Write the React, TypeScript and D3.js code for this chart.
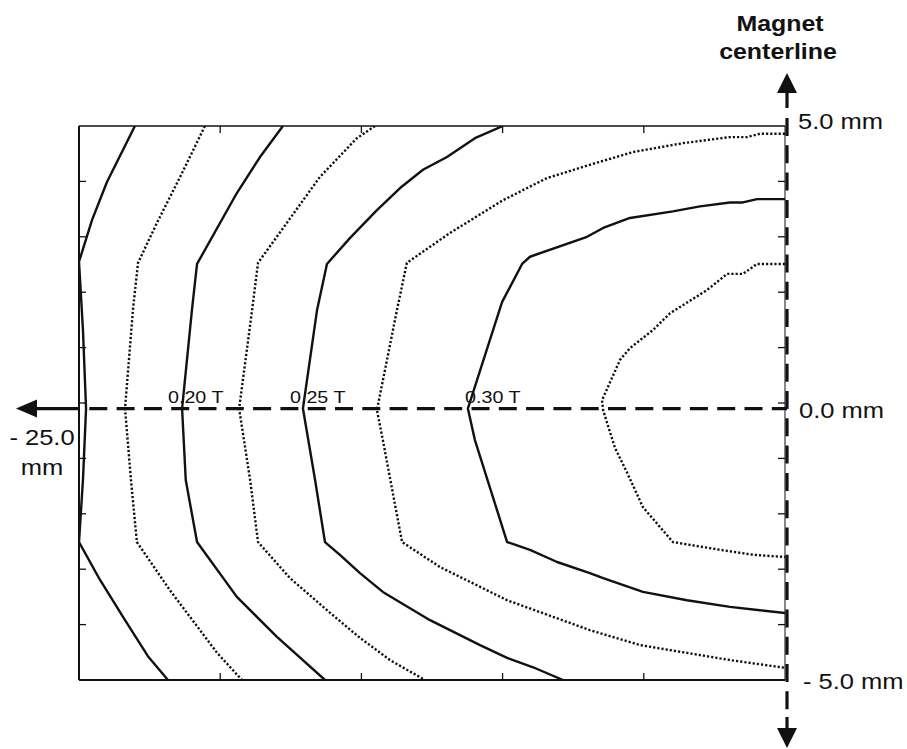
import * as d3 from 'd3';
import React from 'react';

const W = 907;
const H = 749;

// axes in mm: x = distance from magnet centerline, y = height
const xTicks = [-25, -20, -15, -10, -5, 0];
const yTicks = [-5, -4, -3, -2, -1, 0, 1, 2, 3, 4, 5];
const midY = -0.1;

// contour lines (mm), outer to inner
const c1x = [-23.02, -24.01, -24.54, -25, -24.86, -24.75, -24.86, -25, -24.26, -23.37, -22.56, -21.85];
const c1y = [5, 3.99, 3.3, 2.55, 1.32, -0.1, -1.39, -2.51, -3.19, -3.92, -4.57, -5];

const c2x = [-20.54, -21.42, -22.24, -22.91, -23.09, -23.37, -23.16, -22.95, -21.78, -20.11, -19.23];
const c2y = [5, 4.08, 3.25, 2.53, 1.68, -0.1, -1.39, -2.51, -3.38, -4.51, -5];

const c3x = [-17.78, -18.59, -19.41, -20.82, -21.0, -21.35, -21.22, -20.82, -19.41, -17.99, -16.29];
const c3y = [5, 4.44, 3.79, 2.51, 1.68, -0.1, -1.39, -2.51, -3.5, -4.22, -5];

const c4x = [-14.52, -15.16, -16.47, -18.66, -18.87, -19.33, -18.94, -18.66, -17.53, -16.22, -15.05, -13.99, -12.75];
const c4y = [5, 4.78, 4.08, 2.53, 1.68, -0.1, -1.39, -2.51, -3.16, -3.74, -4.24, -4.64, -5];

const c5x = [-9.99, -10.98, -11.97, -12.82, -13.63, -14.45, -15.4, -16.22, -16.57, -17.07, -16.64, -16.29, -15.76, -15.05, -14.24, -12.57, -10.8, -9.84, -8.92, -7.86];
const c5y = [5, 4.78, 4.44, 4.21, 3.88, 3.48, 2.98, 2.51, 1.68, -0.1, -1.39, -2.51, -2.74, -3.07, -3.41, -3.92, -4.37, -4.6, -4.77, -5];

const c6x = [0, -0.89, -1.35, -1.95, -3.61, -5.38, -6.91, -8.43, -9.99, -11.86, -13.39, -13.74, -14.45, -14.24, -13.56, -12.22, -9.84, -6.91, -5.13, -3.72, -1.95, 0];
const c6y = [4.86, 4.86, 4.8, 4.8, 4.69, 4.53, 4.3, 4.06, 3.66, 3.07, 2.53, 1.68, -0.13, -0.67, -2.51, -2.96, -3.56, -4.1, -4.37, -4.49, -4.64, -4.78];

const c7x = [0, -0.99, -1.49, -1.95, -3.01, -3.97, -5.49, -6.44, -7.01, -9.03, -9.31, -10.02, -11.23, -10.98, -9.84, -9.03, -8.07, -6.91, -6.44, -5.03, -3.47, -1.95, -0.89, 0];
const c7y = [3.68, 3.68, 3.62, 3.62, 3.55, 3.46, 3.34, 3.16, 3.0, 2.64, 2.51, 1.82, -0.1, -0.67, -2.51, -2.65, -2.87, -3.07, -3.16, -3.41, -3.56, -3.68, -3.74, -3.79];

const c8x = [0, -0.99, -1.49, -2.05, -2.76, -4.07, -4.67, -5.49, -5.84, -6.48, -6.44, -6.02, -5.59, -5.03, -3.97, -2.3, -1.13, 0];
const c8y = [2.51, 2.51, 2.33, 2.33, 2.04, 1.62, 1.32, 0.99, 0.78, 0.05, -0.13, -0.81, -1.26, -1.88, -2.51, -2.65, -2.74, -2.78];

const contourStyle = ['solid', 'dotted', 'solid', 'dotted', 'solid', 'dotted', 'solid', 'dotted'];

const labelText = ['0.20 T', '0.25 T', '0.30 T'];
const labelX = [-21.85, -17.53, -11.33];

const rightLabels = ['5.0 mm', '0.0 mm', '- 5.0 mm'];
const leftLabels = ['- 25.0', 'mm'];
const titleLines = ['Magnet', 'centerline'];

const FONT = "'Liberation Sans', Arial, Helvetica, sans-serif";
const SX = 1.16; // the original lettering is a little wide

const margin = { left: 79, right: 122, top: 126, bottom: 69 };

function Stretched({ x, y, size, weight, anchor, children }: any) {
  return (
    <g transform={`translate(${x},${y}) scale(${SX},1)`}>
      <text x={0} y={0} fontFamily={FONT} fontSize={size} fontWeight={weight || 'normal'}
        textAnchor={anchor || 'start'} fill="#111">{children}</text>
    </g>
  );
}

export default function App() {
  const x = d3.scaleLinear().domain([-25, 0]).range([margin.left, W - margin.right]);
  const y = d3.scaleLinear().domain([-5, 5]).range([H - margin.bottom, margin.top]);

  const line = d3.line<[number, number]>().x(d => x(d[0])).y(d => y(d[1]));

  const xs = [c1x, c2x, c3x, c4x, c5x, c6x, c7x, c8x];
  const ys = [c1y, c2y, c3y, c4y, c5y, c6y, c7y, c8y];
  const contours = xs.map((cx, i) => ({
    pts: cx.map((v, j) => [v, ys[i][j]] as [number, number]),
    style: contourStyle[i],
  }));

  const x0 = x(-25), x1 = x(0), y0 = y(-5), y1 = y(5);
  const ym = y(midY);
  const vx = x1 + 2;
  const tick = 7;

  return (
    <svg width={W} height={H} style={{ position: 'absolute', left: 0, top: 0, background: '#fff' }}>
      <defs>
        <clipPath id="plot">
          <rect x={x0} y={y1} width={x1 - x0} height={y0 - y1} />
        </clipPath>
      </defs>

      {/* contour labels */}
      {labelText.map((t, i) => (
        <Stretched key={t} x={x(labelX[i])} y={ym - 6} size={17}>{t}</Stretched>
      ))}

      {/* horizontal midline arrow */}
      <line x1={28} x2={62} y1={ym} y2={ym} stroke="#111" strokeWidth={3.2} />
      <line x1={62} x2={vx} y1={ym} y2={ym} stroke="#111" strokeWidth={3.2} strokeDasharray="18,9.3" />
      <path d={`M16,${ym} L37,${ym - 9} L37,${ym + 9} Z`} fill="#111" />

      {/* contours */}
      <g clipPath="url(#plot)" fill="none" stroke="#111">
        {contours.map((c, i) => (
          <path key={i} d={line(c.pts) || ''}
            strokeWidth={c.style === 'solid' ? 2.4 : 2.4}
            strokeDasharray={c.style === 'solid' ? undefined : '2.2,2'}
            strokeLinejoin="round" />
        ))}
      </g>

      {/* frame */}
      <line x1={x0} x2={x1} y1={y1} y2={y1} stroke="#111" strokeWidth={1.3} />
      <line x1={x0} x2={x1} y1={y0} y2={y0} stroke="#111" strokeWidth={2} />
      <line x1={x0} x2={x0} y1={y1} y2={y0} stroke="#111" strokeWidth={2} />
      <line x1={x1} x2={x1} y1={y1} y2={y0} stroke="#111" strokeWidth={1} />

      {/* ticks */}
      {xTicks.slice(1, -1).map(t => (
        <g key={'xt' + t} stroke="#111" strokeWidth={1.3}>
          <line x1={x(t)} x2={x(t)} y1={y1} y2={y1 + tick} />
          <line x1={x(t)} x2={x(t)} y1={y0} y2={y0 - tick} />
        </g>
      ))}
      {yTicks.slice(1, -1).map(t => (
        <g key={'yt' + t} stroke="#111" strokeWidth={1.3}>
          <line x1={x0} x2={x0 + tick} y1={y(t)} y2={y(t)} />
          <line x1={x1} x2={x1 - tick} y1={y(t)} y2={y(t)} />
        </g>
      ))}

      {/* vertical centerline arrow */}
      <line x1={vx} x2={vx} y1={90} y2={108} stroke="#111" strokeWidth={3.2} />
      <line x1={vx} x2={vx} y1={118} y2={717} stroke="#111" strokeWidth={3.2} strokeDasharray="18,9.3" />
      <line x1={vx} x2={vx} y1={717} y2={730} stroke="#111" strokeWidth={3.2} />
      <path d={`M${vx},73 L${vx - 10},93 L${vx + 10},93 Z`} fill="#111" />
      <path d={`M${vx},748 L${vx - 10},728 L${vx + 10},728 Z`} fill="#111" />

      {/* axis texts */}
      <Stretched x={798} y={y(5) + 3} size={22}>{rightLabels[0]}</Stretched>
      <Stretched x={799} y={ym + 9} size={22}>{rightLabels[1]}</Stretched>
      <Stretched x={803} y={y(-5) + 9} size={22}>{rightLabels[2]}</Stretched>

      <Stretched x={42} y={445} size={22} anchor="middle">{leftLabels[0]}</Stretched>
      <Stretched x={42} y={475} size={22} anchor="middle">{leftLabels[1]}</Stretched>

      <Stretched x={780} y={31} size={21.5} weight="bold" anchor="middle">{titleLines[0]}</Stretched>
      <Stretched x={778} y={59} size={21.5} weight="bold" anchor="middle">{titleLines[1]}</Stretched>
    </svg>
  );
}
